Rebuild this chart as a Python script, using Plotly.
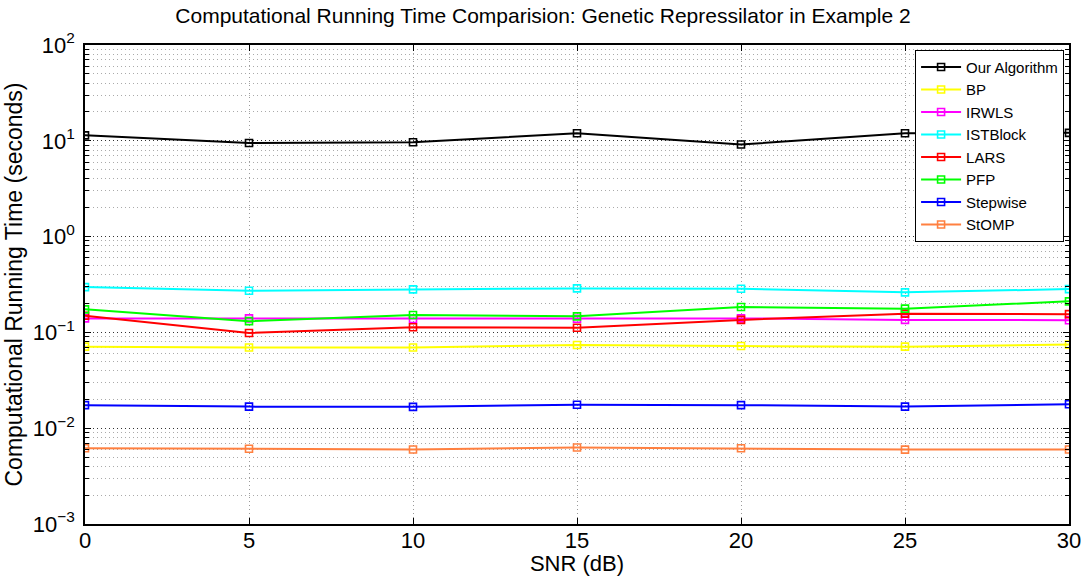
import plotly.graph_objects as go

snr = [0, 5, 10, 15, 20, 25, 30]
names = ["Our Algorithm", "BP", "IRWLS", "ISTBlock", "LARS", "PFP", "Stepwise", "StOMP"]
our_algorithm = [11.4, 9.5, 9.67, 12.0, 9.15, 12.0, 12.1]
bp = [0.071, 0.0695, 0.0695, 0.074, 0.072, 0.071, 0.0746]
irwls = [0.140, 0.140, 0.138, 0.139, 0.140, 0.135, 0.134]
istblock = [0.297, 0.272, 0.281, 0.288, 0.286, 0.262, 0.283]
lars = [0.149, 0.0986, 0.113, 0.112, 0.135, 0.157, 0.155]
pfp = [0.174, 0.131, 0.152, 0.147, 0.184, 0.177, 0.211]
stepwise = [0.0174, 0.0168, 0.0167, 0.0176, 0.0174, 0.0168, 0.0178]
stomp = [0.00618, 0.0061, 0.0060, 0.00628, 0.00618, 0.00598, 0.0060]
series = [our_algorithm, bp, irwls, istblock, lars, pfp, stepwise, stomp]
colors = ["#000000", "#FFFF00", "#FF00FF", "#00FFFF", "#FF0000", "#00FF00", "#0000FF", "#FF8040"]

y_tickvals = [1e-3, 1e-2, 1e-1, 1e0, 1e1, 1e2]
y_ticktext = ["10<sup>\u22123</sup>", "10<sup>\u22122</sup>", "10<sup>\u22121</sup>",
              "10<sup>0</sup>", "10<sup>1</sup>", "10<sup>2</sup>"]
x_tickvals = [0, 5, 10, 15, 20, 25, 30]

fig = go.Figure()
for name, vals, col in zip(names, series, colors):
    fig.add_trace(go.Scatter(
        x=snr, y=vals, name=name, mode="lines+markers",
        line=dict(color=col, width=2),
        marker=dict(symbol="square-open", size=7, color=col, line=dict(width=1.6, color=col)),
    ))

font_family = "Liberation Sans, Arial, sans-serif"
fig.update_layout(
    width=1086, height=576,
    margin=dict(l=85, r=17, t=45, b=52),
    paper_bgcolor="white", plot_bgcolor="white",
    font=dict(family=font_family, color="black"),
    title=dict(text="Computational Running Time Comparision: Genetic Repressilator in Example 2",
               x=0.5, xanchor="center", y=0.972, yanchor="middle",
               font=dict(size=21, family=font_family, color="black")),
    showlegend=True,
    legend=dict(x=0.995, y=0.99, xanchor="right", yanchor="top",
                bgcolor="white", bordercolor="black", borderwidth=1,
                font=dict(size=15, family=font_family, color="black"),
                tracegroupgap=0, itemwidth=40),
)
fig.update_xaxes(
    range=[0, 30], tickvals=x_tickvals, ticktext=[str(v) for v in x_tickvals],
    showline=True, linecolor="black", linewidth=1.5, mirror="ticks",
    ticks="inside", ticklen=6, tickcolor="black", ticklabelstandoff=-4,
    showgrid=True, gridcolor="#9a9a9a", griddash="1px,3px", gridwidth=1,
    zeroline=False, automargin=False,
    tickfont=dict(size=22, family=font_family, color="black"),
    title=dict(text="SNR (dB)", font=dict(size=22, family=font_family, color="black"), standoff=0),
)
fig.update_yaxes(
    type="log", range=[-3, 2], tickvals=y_tickvals, ticktext=y_ticktext,
    showline=True, linecolor="black", linewidth=1.5, mirror="ticks",
    ticks="inside", ticklen=6, tickcolor="black", ticklabelstandoff=4,
    showgrid=True, gridcolor="#333333", griddash="1px,3px", gridwidth=1,
    minor=dict(ticks="inside", ticklen=4, tickcolor="black", showgrid=True,
               gridcolor="#aaaaaa", griddash="1px,3px", gridwidth=1, dtick="D1"),
    zeroline=False, automargin=False,
    tickfont=dict(size=22, family=font_family, color="black"),
    title=dict(text="Computational Running Time (seconds)",
               font=dict(size=23, family=font_family, color="black"), standoff=4),
)

fig.write_html("out.html", config={"displayModeBar": False},
               post_script="document.body.style.margin='0';")
